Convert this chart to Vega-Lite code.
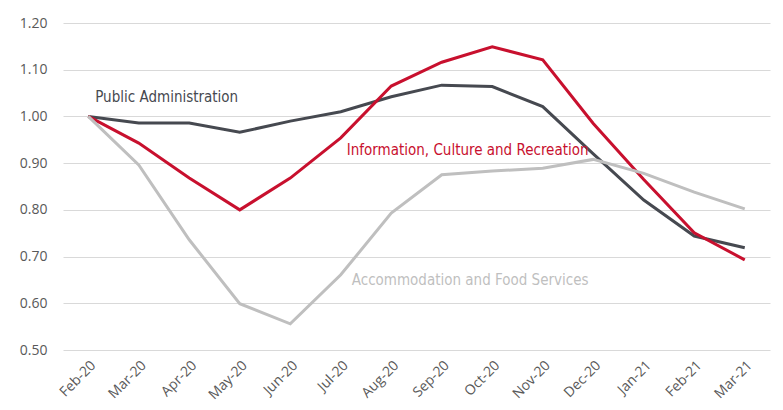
{
  "$schema": "https://vega.github.io/schema/vega-lite/v6.json",
  "width": 707,
  "height": 327,
  "autosize": {"type": "none"},
  "padding": {"left": 63, "top": 23, "right": 13, "bottom": 60},
  "background": "white",
  "config": {"view": {"stroke": null}},
  "datasets": {
    "series": [
      {"month": "Feb-20", "industry": "Public Administration", "value": 1.0},
      {"month": "Mar-20", "industry": "Public Administration", "value": 0.986},
      {"month": "Apr-20", "industry": "Public Administration", "value": 0.986},
      {"month": "May-20", "industry": "Public Administration", "value": 0.966},
      {"month": "Jun-20", "industry": "Public Administration", "value": 0.99},
      {"month": "Jul-20", "industry": "Public Administration", "value": 1.01},
      {"month": "Aug-20", "industry": "Public Administration", "value": 1.042},
      {"month": "Sep-20", "industry": "Public Administration", "value": 1.067},
      {"month": "Oct-20", "industry": "Public Administration", "value": 1.064},
      {"month": "Nov-20", "industry": "Public Administration", "value": 1.021},
      {"month": "Dec-20", "industry": "Public Administration", "value": 0.92},
      {"month": "Jan-21", "industry": "Public Administration", "value": 0.821},
      {"month": "Feb-21", "industry": "Public Administration", "value": 0.744},
      {"month": "Mar-21", "industry": "Public Administration", "value": 0.719},
      {"month": "Feb-20", "industry": "Information, Culture and Recreation", "value": 1.0},
      {"month": "Mar-20", "industry": "Information, Culture and Recreation", "value": 0.943},
      {"month": "Apr-20", "industry": "Information, Culture and Recreation", "value": 0.868},
      {"month": "May-20", "industry": "Information, Culture and Recreation", "value": 0.80},
      {"month": "Jun-20", "industry": "Information, Culture and Recreation", "value": 0.868},
      {"month": "Jul-20", "industry": "Information, Culture and Recreation", "value": 0.954},
      {"month": "Aug-20", "industry": "Information, Culture and Recreation", "value": 1.065},
      {"month": "Sep-20", "industry": "Information, Culture and Recreation", "value": 1.116},
      {"month": "Oct-20", "industry": "Information, Culture and Recreation", "value": 1.149},
      {"month": "Nov-20", "industry": "Information, Culture and Recreation", "value": 1.121},
      {"month": "Dec-20", "industry": "Information, Culture and Recreation", "value": 0.985},
      {"month": "Jan-21", "industry": "Information, Culture and Recreation", "value": 0.865},
      {"month": "Feb-21", "industry": "Information, Culture and Recreation", "value": 0.751},
      {"month": "Mar-21", "industry": "Information, Culture and Recreation", "value": 0.693},
      {"month": "Feb-20", "industry": "Accommodation and Food Services", "value": 1.0},
      {"month": "Mar-20", "industry": "Accommodation and Food Services", "value": 0.896},
      {"month": "Apr-20", "industry": "Accommodation and Food Services", "value": 0.736},
      {"month": "May-20", "industry": "Accommodation and Food Services", "value": 0.599},
      {"month": "Jun-20", "industry": "Accommodation and Food Services", "value": 0.556},
      {"month": "Jul-20", "industry": "Accommodation and Food Services", "value": 0.661},
      {"month": "Aug-20", "industry": "Accommodation and Food Services", "value": 0.793},
      {"month": "Sep-20", "industry": "Accommodation and Food Services", "value": 0.875},
      {"month": "Oct-20", "industry": "Accommodation and Food Services", "value": 0.883},
      {"month": "Nov-20", "industry": "Accommodation and Food Services", "value": 0.889},
      {"month": "Dec-20", "industry": "Accommodation and Food Services", "value": 0.908},
      {"month": "Jan-21", "industry": "Accommodation and Food Services", "value": 0.878},
      {"month": "Feb-21", "industry": "Accommodation and Food Services", "value": 0.838},
      {"month": "Mar-21", "industry": "Accommodation and Food Services", "value": 0.802}
    ],
    "labels": [
      {"month": "Feb-20", "industry": "Public Administration", "value": 1.042, "offset": 7},
      {"month": "Jul-20", "industry": "Information, Culture and Recreation", "value": 0.928, "offset": 6},
      {"month": "Jul-20", "industry": "Accommodation and Food Services", "value": 0.65, "offset": 11}
    ]
  },
  "encoding": {
    "x": {
      "field": "month",
      "type": "ordinal",
      "sort": ["Feb-20", "Mar-20", "Apr-20", "May-20", "Jun-20", "Jul-20", "Aug-20", "Sep-20", "Oct-20", "Nov-20", "Dec-20", "Jan-21", "Feb-21", "Mar-21"],
      "scale": {"type": "point", "padding": 0.5},
      "axis": {
        "title": null,
        "labelAngle": -45,
        "labelFont": "Open Sans",
        "labelFontSize": 14,
        "labelColor": "#595959",
        "domain": false,
        "ticks": false,
        "labelPadding": 8,
        "grid": false
      }
    },
    "y": {
      "field": "value",
      "type": "quantitative",
      "scale": {"domain": [0.5, 1.2], "nice": false, "zero": false},
      "axis": {
        "title": null,
        "values": [0.5, 0.6, 0.7, 0.8, 0.9, 1.0, 1.1, 1.2],
        "format": ".2f",
        "labelFont": "Open Sans",
        "labelFontSize": 14,
        "labelColor": "#595959",
        "domain": false,
        "ticks": false,
        "labelPadding": 16,
        "grid": true,
        "gridColor": "#d9d9d9",
        "gridWidth": 1.2
      }
    },
    "color": {
      "field": "industry",
      "type": "nominal",
      "scale": {
        "domain": ["Public Administration", "Information, Culture and Recreation", "Accommodation and Food Services"],
        "range": ["#464950", "#c8102e", "#bfbfbf"]
      },
      "legend": null
    }
  },
  "layer": [
    {
      "data": {"name": "series"},
      "mark": {"type": "line", "strokeWidth": 3, "strokeJoin": "miter"},
      "encoding": {"detail": {"field": "industry"}}
    },
    {
      "data": {"name": "labels"},
      "mark": {"type": "text", "align": "left", "baseline": "middle", "font": "'DejaVu Sans Condensed', 'Roboto', sans-serif", "fontSize": 15},
      "encoding": {
        "text": {"field": "industry"},
        "xOffset": {"field": "offset", "type": "quantitative", "scale": null}
      }
    }
  ]
}
